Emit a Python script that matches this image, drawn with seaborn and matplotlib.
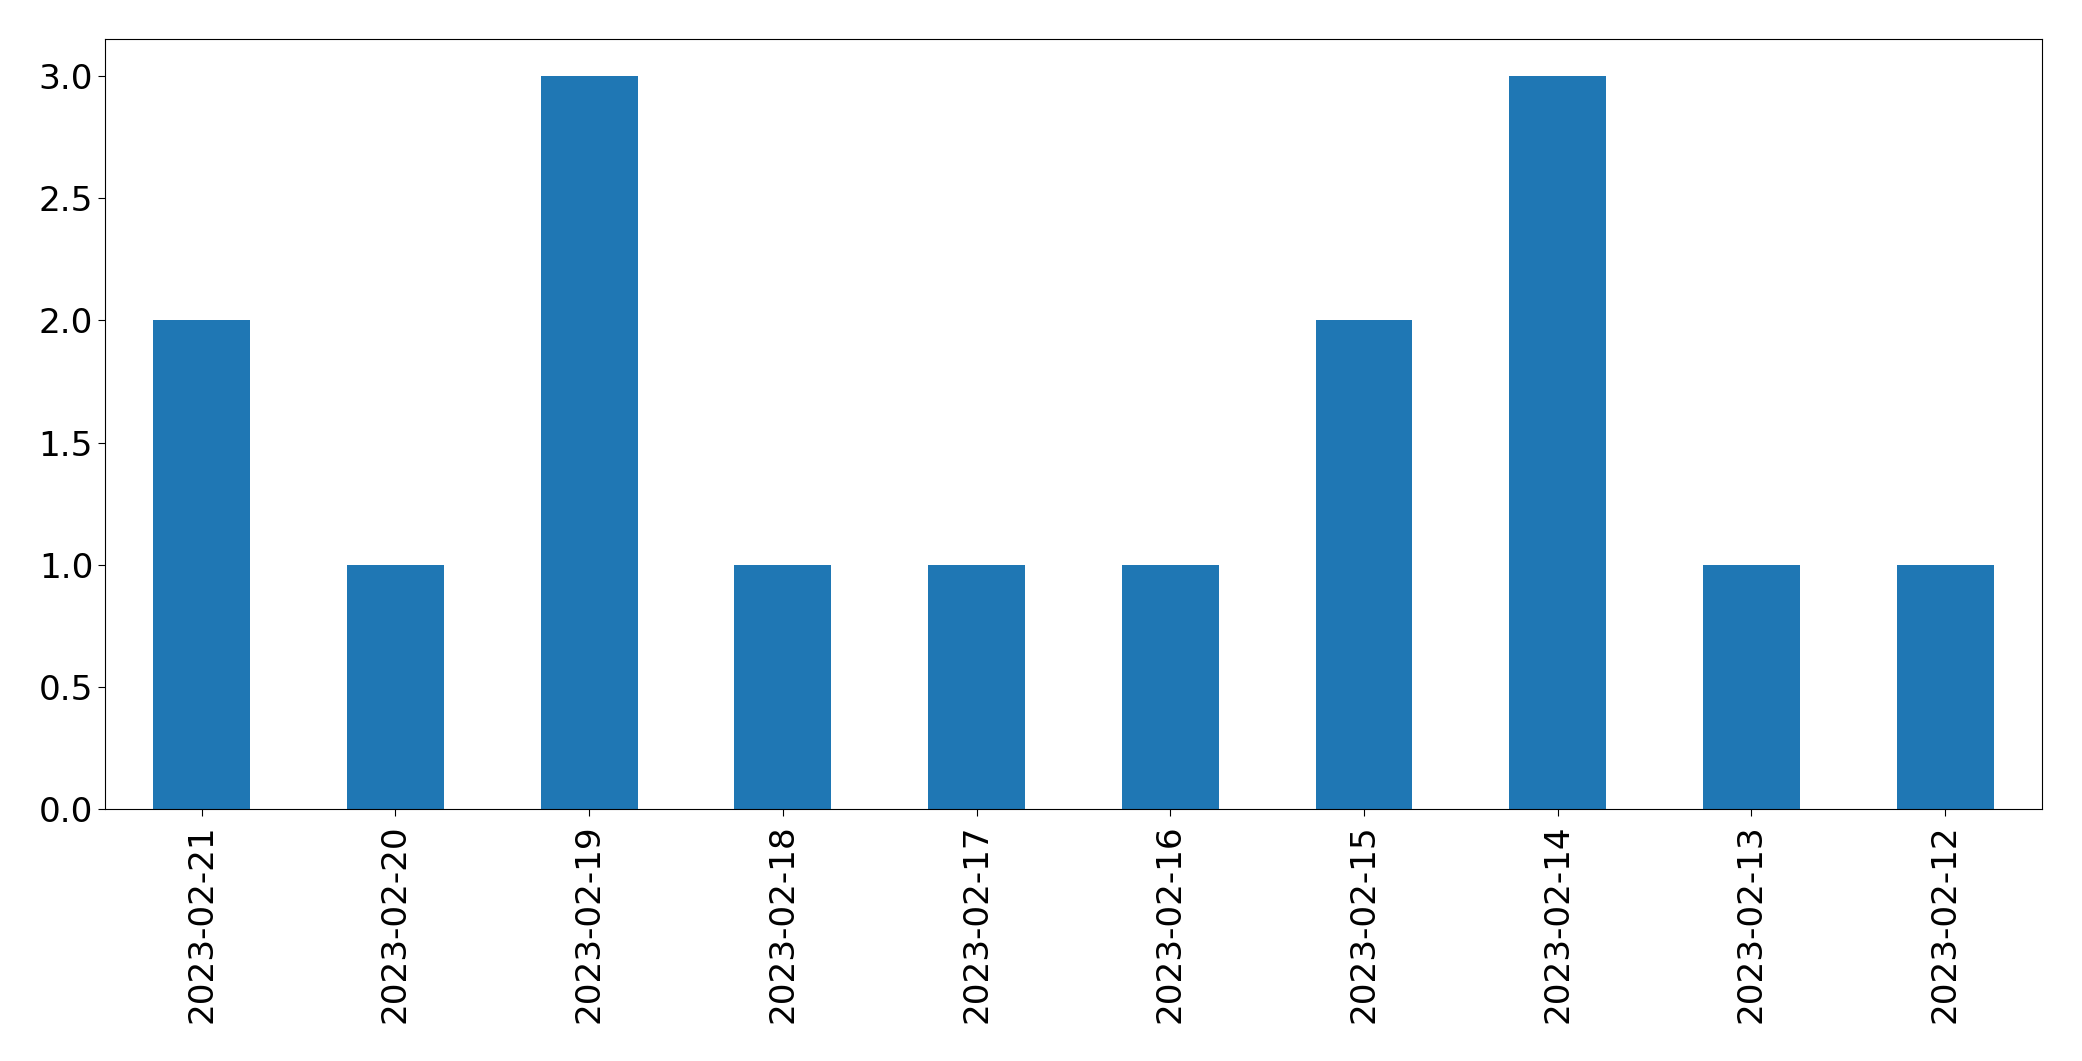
import matplotlib
matplotlib.use("Agg")
import matplotlib.pyplot as plt
import pandas as pd
import seaborn as sns

dates = ["2023-02-21", "2023-02-20", "2023-02-19", "2023-02-18", "2023-02-17",
         "2023-02-16", "2023-02-15", "2023-02-14", "2023-02-13", "2023-02-12"]
counts = [2, 1, 3, 1, 1, 1, 2, 3, 1, 1]

df = pd.DataFrame({"date": dates, "count": counts})

fig, ax = plt.subplots(figsize=(20.82, 10.61), dpi=100)
sns.barplot(data=df, x="date", y="count", order=dates, color="#1f77b4",
            saturation=1, width=0.5, linewidth=0, ax=ax)
ax.set_xlim(-0.5, len(dates) - 0.5)
ax.set_ylim(0, 3.15)
ax.set_xlabel("")
ax.set_ylabel("")
ax.tick_params(axis="both", labelsize=24.7, length=5)
ax.tick_params(axis="x", pad=6)
plt.setp(ax.get_xticklabels(), rotation=90)
plt.subplots_adjust(left=0.0504, right=0.9808, top=0.9628, bottom=0.2375)
fig.savefig("out.png", dpi=100)
